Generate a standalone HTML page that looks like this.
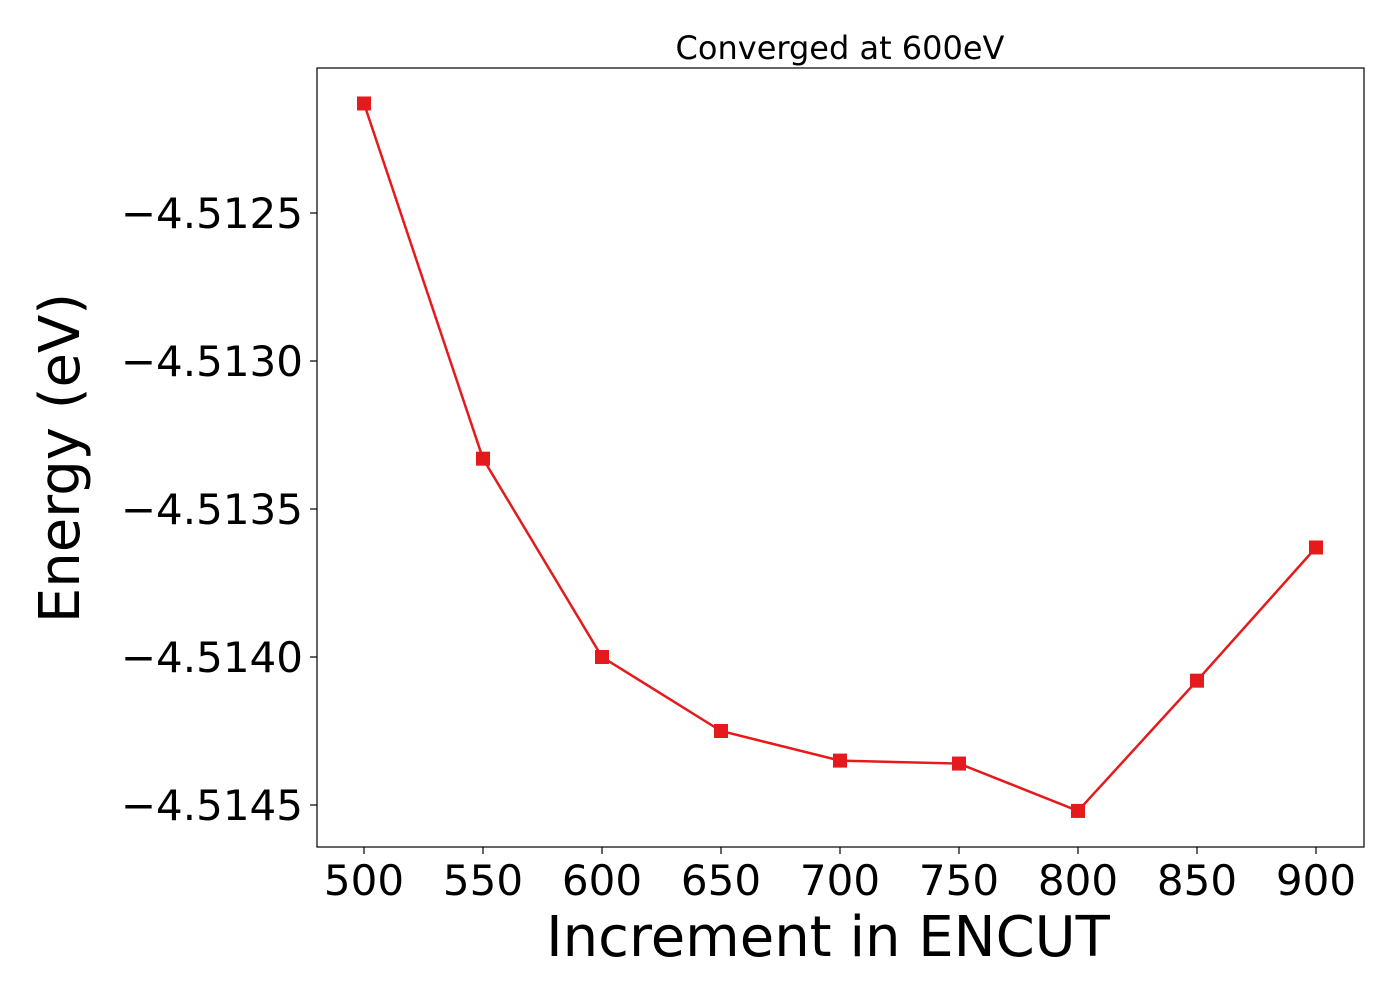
<!DOCTYPE html>
<html><head><meta charset="utf-8"><style>
body{margin:0;background:#fff}
svg{display:block}
text{font-family:"DejaVu Sans","Liberation Sans",sans-serif;fill:#000}
</style></head><body>
<svg id="chart" width="1400" height="1000">
<rect x="0" y="0" width="1400" height="1000" fill="#fff"/>
<text x="840" y="59" font-size="32" text-anchor="middle">Converged at 600eV</text>
<g id="grid"></g>
<rect x="317" y="68" width="1047" height="779" fill="none" stroke="#000" stroke-width="1.2"/>
<text x="828" y="956" font-size="56" text-anchor="middle">Increment in ENCUT</text>
<text transform="translate(79,458) rotate(-90)" font-size="56" text-anchor="middle">Energy (eV)</text>
<g id="ticks"></g>
<g id="series"></g>
</svg>
<script>
const categories=[500,550,600,650,700,750,800,850,900];
const energies=[-4.51213,-4.51333,-4.51400,-4.51425,-4.51435,-4.51436,-4.51452,-4.51408,-4.51363];
const xTicks=[500,550,600,650,700,750,800,850,900];
const yTicks=[-4.5125,-4.5130,-4.5135,-4.5140,-4.5145];
const yTickLabels=["\u22124.5125","\u22124.5130","\u22124.5135","\u22124.5140","\u22124.5145"];
const NS="http://www.w3.org/2000/svg";
function xS(v){return 364+(v-500)*(1316-364)/400;}
function yS(v){return 213+(-4.5125-v)*(805-213)/0.002;}
const tk=document.getElementById('ticks');
function mk(tag,attrs,parent){const e=document.createElementNS(NS,tag);for(const k in attrs)e.setAttribute(k,attrs[k]);parent.appendChild(e);return e;}
xTicks.forEach(v=>{
  const l=mk('line',{x1:xS(v),x2:xS(v),y1:847,y2:854,stroke:'#000','stroke-width':1.2},tk);
  
  
  const t=mk('text',{x:xS(v),y:895,'font-size':42,'text-anchor':'middle'},tk);
  t.textContent=v;
  
  
});
yTicks.forEach((v,i)=>{
  const l=mk('line',{x1:310,x2:317,y1:yS(v),y2:yS(v),stroke:'#000','stroke-width':1.2},tk);
  
  
  const t=mk('text',{x:303,y:yS(v)+15,'font-size':42,'text-anchor':'end'},tk);
  t.textContent=yTickLabels[i];
  
  
});
const sg=document.getElementById('series');
const pts=categories.map((c,i)=>xS(c)+','+yS(energies[i])).join(' ');
const pl=mk('polyline',{points:pts,fill:'none',stroke:'#e41a1c','stroke-width':2.5},sg);


categories.forEach((c,i)=>{
  const r=mk('rect',{x:xS(c)-7,y:yS(energies[i])-7,width:14,height:14,fill:'#e41a1c'},sg);
  
  
});
</script>
</body></html>
